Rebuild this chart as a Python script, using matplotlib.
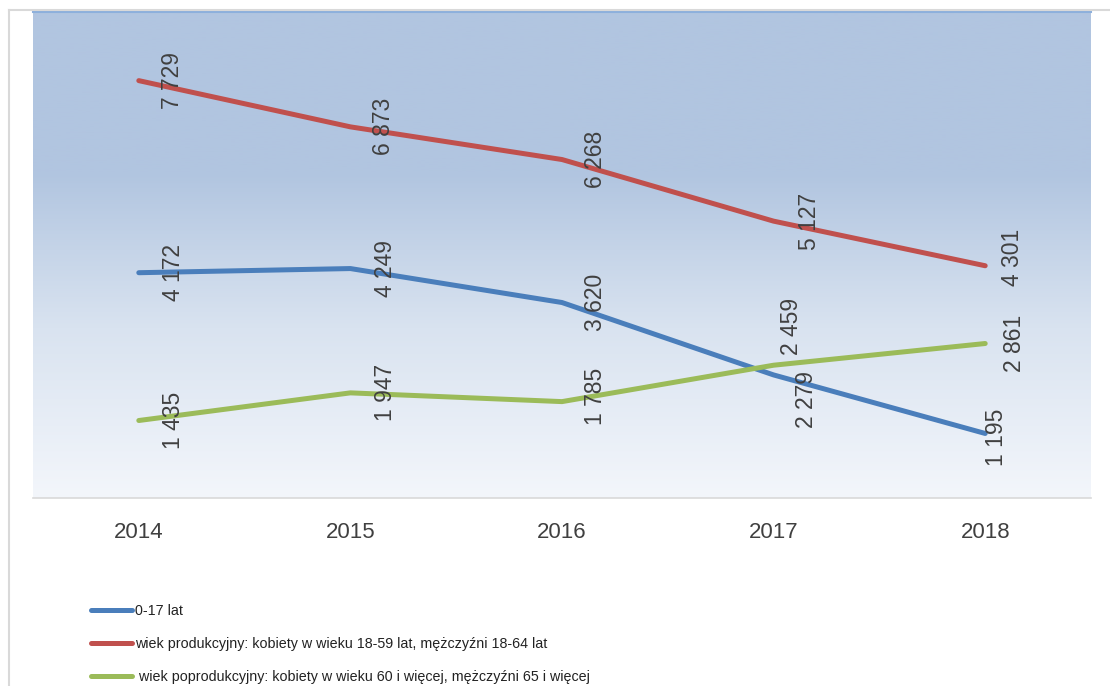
import numpy as np
import matplotlib.pyplot as plt
from matplotlib.colors import LinearSegmentedColormap
from matplotlib.lines import Line2D

# data
years = ['2014', '2015', '2016', '2017', '2018']
age_0_17 = [4172, 4249, 3620, 2279, 1195]
working_age = [7729, 6873, 6268, 5127, 4301]
post_working = [1435, 1947, 1785, 2459, 2861]
series_labels = ['0-17 lat',
                 'wiek produkcyjny: kobiety w wieku 18-59 lat, mężczyźni 18-64 lat',
                 ' wiek poprodukcyjny: kobiety w wieku 60 i więcej, mężczyźni 65 i więcej']

colors = ['#4A7EBB', '#C0504D', '#9BBB59']

# label nudges in pixels (dx, dy; dy positive = up)
nudges = [
    [(35, 0), (35, 0), (34, 0), (33, -25), (11, -4)],
    [(34, 0), (33, 0), (34, 0), (36, 0), (27, 8)],
    [(35, 0), (35, 0), (34, 5), (18, 39), (29, 0)],
]

plt.rcParams['font.family'] = ['Liberation Sans', 'DejaVu Sans']
txt_color = '#404040'

fig = plt.figure(figsize=(11.1, 6.86), dpi=100)
ax = fig.add_axes([33 / 1110, 1 - 498 / 686, (1091 - 33) / 1110, (498 - 12) / 686])

# gradient background
cmap = LinearSegmentedColormap.from_list(
    'bg', [(0.0, '#F3F6FB'), (0.35, '#D9E3F0'), (0.67, '#B1C5E0'), (1.0, '#B1C5E0')])
grad = np.linspace(0, 1, 256).reshape(-1, 1)
ax.imshow(grad, cmap=cmap, aspect='auto', origin='lower',
          extent=[-0.5, 4.5, 0, 9000], zorder=0)

x = np.arange(len(years))
all_series = [age_0_17, working_age, post_working]
for vals, col, lab, nd in zip(all_series, colors, series_labels, nudges):
    ax.plot(x, vals, color=col, lw=3.6, solid_capstyle='round', label=lab, zorder=3)
    for xi, v, (dx, dy) in zip(x, vals, nd):
        s = f'{v:,}'.replace(',', ' ')
        ax.annotate(s, (xi, v), xytext=(dx * 0.72, dy * 0.72), textcoords='offset points',
                    rotation=90, ha='center', va='center', fontsize=16.5,
                    color=txt_color, zorder=4)

ax.set_xlim(-0.5, 4.5)
ax.set_ylim(0, 9000)
ax.set_xticks(x)
ax.set_xticklabels(years, fontsize=16, color=txt_color)
ax.tick_params(axis='x', length=0, pad=17)
ax.set_yticks([])
for sp in ['left', 'right']:
    ax.spines[sp].set_visible(False)
ax.spines['top'].set_color('#8DB0DC')
ax.spines['top'].set_linewidth(1.5)
ax.spines['bottom'].set_color('#D9D9D9')
ax.spines['bottom'].set_linewidth(1.2)

# chart frame
fig.add_artist(Line2D([9 / 1110, 9 / 1110], [0, 1 - 10 / 686], color='#D9D9D9', lw=1.5))
fig.add_artist(Line2D([9 / 1110, 1], [1 - 10 / 686, 1 - 10 / 686], color='#D9D9D9', lw=1.5))

handles, labels = ax.get_legend_handles_labels()
fig.legend(handles, labels, loc='upper left', bbox_to_anchor=(91 / 1110, 1 - 604 / 686),
           frameon=False, fontsize=10.3, handlelength=2.85, handletextpad=0.2,
           labelspacing=1.32, labelcolor='#222222', borderaxespad=0, borderpad=0)

fig.savefig('out.png', dpi=100)
